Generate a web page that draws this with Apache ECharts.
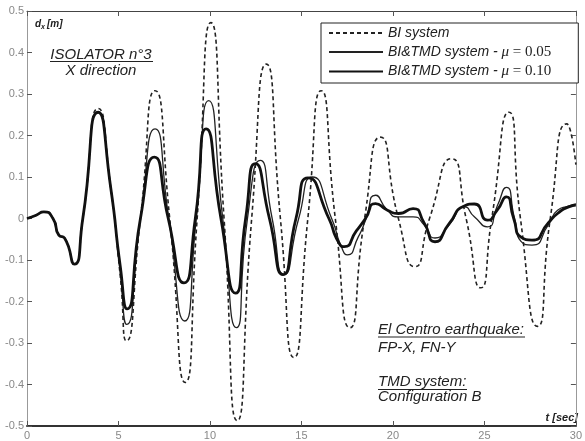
<!DOCTYPE html>
<html><head><meta charset="utf-8">
<script src="https://cdn.jsdelivr.net/npm/echarts@6/dist/echarts.min.js"></script>
<style>html,body{margin:0;padding:0;background:#fff}#c{width:585px;height:441px}</style>
</head><body><div id="c"></div>
<script>
// time [sec] and displacement d_x [m]
const tBI  = [0,0.5,0.92,1.42,1.74,2.05,2.59,3.05,3.9,4.57,5.1,5.43,6.2,7.0,7.8,8.65,9.3,10.05,10.77,11.49,12.28,13.08,13.85,14.59,15.35,16.08,16.85,17.65,18.45,19.32,20.3,21.2,22.0,23.2,24.0,24.8,25.4,26.34,26.97,27.9,28.6,29.5,30];
const dBI  = [0,0.008,0.016,0.0,-0.04,-0.047,-0.11,0.0,0.265,0.076,-0.14,-0.295,0.0,0.308,0.0,-0.395,0.0,0.472,0.0,-0.487,0.0,0.372,0.0,-0.335,0.0,0.308,0.0,-0.263,0.0,0.196,0.0,-0.116,0.0,0.144,0.0,-0.167,0.0,0.256,0.0,-0.26,0.0,0.228,0.13];
const tMu05 = [0,0.5,0.92,1.42,1.74,2.05,2.59,3.05,3.89,4.57,5.1,5.45,6.2,7.0,7.75,8.62,9.25,9.93,10.7,11.45,12.05,12.75,13.4,14.05,14.85,15.6,16.65,17.2,17.52,18.1,18.5,19.05,19.7,20.3,21.1,21.7,22.3,23.08,23.9,24.45,25.17,25.7,26.2,26.65,27.0,27.6,28.5,29.0,29.6,30];
const dMu05 = [0,0.008,0.016,0.0,-0.04,-0.047,-0.11,0.0,0.256,0.076,-0.13,-0.255,0.0,0.216,0.0,-0.247,0.0,0.284,0.0,-0.263,0.0,0.14,0.0,-0.135,0.0,0.1,0.0,-0.07,-0.0875,-0.045,-0.005,0.056,0.02,0.004,0.004,-0.015,-0.047,-0.015,0.028,0.004,-0.02,0.03,0.075,0.0,-0.055,-0.064,-0.015,0.02,0.03,0.035];
const tMu10 = [0,0.5,0.92,1.42,1.74,2.05,2.59,3.05,3.89,4.57,5.1,5.47,6.2,6.96,7.72,8.58,9.2,9.79,10.6,11.4,11.95,12.48,13.25,14.0,14.7,15.36,16.5,17.0,17.34,18.0,18.5,19.05,19.7,20.3,21.1,21.7,22.3,23.08,23.9,24.45,25.17,25.7,26.2,26.6,27.0,27.6,28.5,29.0,29.6,30];
const dMu10 = [0,0.008,0.016,0.0,-0.04,-0.047,-0.11,0.0,0.256,0.076,-0.116,-0.218,0.0,0.148,0.0,-0.155,0.0,0.216,0.0,-0.18,0.0,0.132,0.0,-0.135,0.0,0.098,0.0,-0.055,-0.068,-0.03,0.0,0.036,0.02,0.012,0.024,-0.01,-0.056,-0.012,0.03,0.035,-0.004,0.02,0.052,0.0,-0.045,-0.052,-0.01,0.012,0.028,0.032];
const seriesNames = ['BI system', 'BI&TMD system - μ = 0.05', 'BI&TMD system - μ = 0.10'];
const xTicks = [0,5,10,15,20,25,30];
const yTicks = [-0.5,-0.4,-0.3,-0.2,-0.1,0,0.1,0.2,0.3,0.4,0.5];

const zip = (t, d) => t.map((v, i) => [v, d[i]]);
const SANS = "'Liberation Sans', Arial, sans-serif";
const SERIF = "'Liberation Serif', 'Times New Roman', serif";
const txtCol = '#222';
const SMOOTH = 0.65;

const chart = echarts.init(document.getElementById('c'), null, {renderer: 'canvas'});
const axisCommon = {
  type: 'value', splitLine: {show: false},
  axisTick: {show: true, inside: true, length: 5, lineStyle: {color: '#555'}}
};
chart.setOption({
  animation: false,
  backgroundColor: '#fff',
  grid: {left: 27, right: 2, top: 11, bottom: 14, containLabel: false},
  xAxis: [
    Object.assign({}, axisCommon, {
      position: 'bottom', min: xTicks[0], max: xTicks[xTicks.length-1], interval: 5,
      axisLine: {show: true, onZero: false, lineStyle: {color: '#333', width: 2}},
      axisLabel: {color: '#888', fontSize: 11, fontFamily: SANS, margin: 4, showMaxLabel: true}
    }),
    Object.assign({}, axisCommon, {
      position: 'top', min: xTicks[0], max: xTicks[xTicks.length-1], interval: 5,
      axisLine: {show: true, onZero: false, lineStyle: {color: '#444', width: 1}},
      axisLabel: {show: false}
    })
  ],
  yAxis: [
    Object.assign({}, axisCommon, {
      position: 'left', min: yTicks[0], max: yTicks[yTicks.length-1], interval: 0.1,
      axisLine: {show: true, onZero: false, lineStyle: {color: '#999', width: 1}},
      axisLabel: {color: '#888', fontSize: 11, fontFamily: SANS, margin: 3,
        formatter: v => String(Math.round(v * 10) / 10)}
    }),
    Object.assign({}, axisCommon, {
      position: 'right', min: yTicks[0], max: yTicks[yTicks.length-1], interval: 0.1,
      axisLine: {show: true, onZero: false, lineStyle: {color: '#999', width: 1}},
      axisLabel: {show: false}
    })
  ],
  legend: {
    orient: 'vertical', left: 321, top: 23,
    padding: [3, 27, 4, 7],
    itemWidth: 54, itemHeight: 14, itemGap: 4.5,
    borderColor: '#222', borderWidth: 1, backgroundColor: '#fff',
    data: seriesNames,
    itemStyle: {opacity: 0},
    formatter: function (name) {
      if (name === seriesNames[0]) return '{a|BI system}';
      const mu = name.slice(-4);
      return '{a|BI&TMD system - }{m|μ}{n| = ' + mu + '}';
    },
    textStyle: {
      color: txtCol,
      rich: {
        a: {fontFamily: SANS, fontStyle: 'italic', fontSize: 14, color: txtCol},
        m: {fontFamily: SERIF, fontStyle: 'italic', fontSize: 15, color: txtCol},
        n: {fontFamily: SERIF, fontSize: 15, color: txtCol}
      }
    }
  },
  series: [
    {name: seriesNames[0], type: 'line', data: zip(tBI, dBI), smooth: SMOOTH, symbol: 'none',
     lineStyle: {color: '#222', width: 1.6, type: [4, 3]}, z: 2},
    {name: seriesNames[1], type: 'line', data: zip(tMu05, dMu05), smooth: SMOOTH, symbol: 'none',
     lineStyle: {color: '#222', width: 1.3}, z: 3},
    {name: seriesNames[2], type: 'line', data: zip(tMu10, dMu10), smooth: SMOOTH, symbol: 'none',
     lineStyle: {color: '#111', width: 2.8}, z: 4}
  ],
  graphic: [
    {type: 'text', style: {x: 35, y: 24, text: 'd', font: "italic bold 10px " + SANS, fill: txtCol, textVerticalAlign: 'middle'}},
    {type: 'text', style: {x: 41, y: 27, text: 'x', font: "italic bold 7px " + SANS, fill: txtCol, textVerticalAlign: 'middle'}},
    {type: 'text', style: {x: 47, y: 24, text: '[m]', font: "italic bold 10px " + SANS, fill: txtCol, textVerticalAlign: 'middle'}},
    {type: 'text', style: {x: 101, y: 55, text: 'ISOLATOR n°3', font: "italic 15px " + SANS, fill: txtCol, textAlign: 'center', textVerticalAlign: 'middle'}},
    {type: 'line', shape: {x1: 50, y1: 61.5, x2: 153, y2: 61.5}, style: {stroke: txtCol, lineWidth: 1}},
    {type: 'text', style: {x: 101, y: 71, text: 'X direction', font: "italic 15px " + SANS, fill: txtCol, textAlign: 'center', textVerticalAlign: 'middle'}},
    {type: 'text', style: {x: 378, y: 330, text: 'El Centro earthquake:', font: "italic 15px " + SANS, fill: txtCol, textVerticalAlign: 'middle'}},
    {type: 'line', shape: {x1: 378, y1: 337, x2: 525, y2: 337}, style: {stroke: txtCol, lineWidth: 1}},
    {type: 'text', style: {x: 378, y: 348, text: 'FP-X, FN-Y', font: "italic 15px " + SANS, fill: txtCol, textVerticalAlign: 'middle'}},
    {type: 'text', style: {x: 378, y: 382, text: 'TMD system:', font: "italic 15px " + SANS, fill: txtCol, textVerticalAlign: 'middle'}},
    {type: 'line', shape: {x1: 378, y1: 389.5, x2: 467, y2: 389.5}, style: {stroke: txtCol, lineWidth: 1}},
    {type: 'text', style: {x: 378, y: 397, text: 'Configuration B', font: "italic 15px " + SANS, fill: txtCol, textVerticalAlign: 'middle'}},
    {type: 'text', style: {x: 578, y: 418, text: 't [sec]', font: "italic bold 11px " + SANS, fill: txtCol, textAlign: 'right', textVerticalAlign: 'middle'}}
  ]
});
</script>
</body></html>
